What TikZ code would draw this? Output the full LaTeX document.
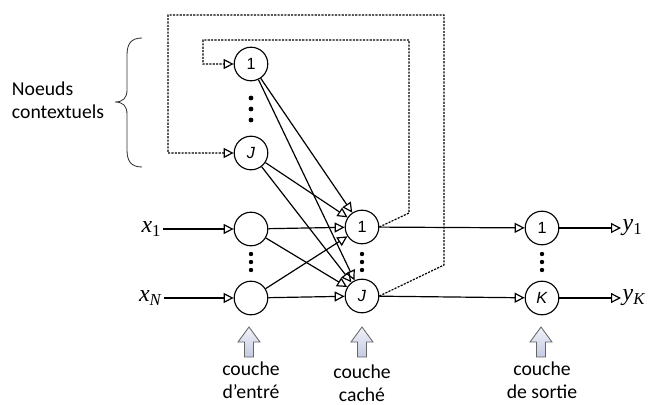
\documentclass[tikz,border=0pt]{standalone}
\usepackage{fontspec}
\setmainfont{Carlito}
\newfontfamily\arial{Liberation Sans}
\newfontfamily\tnr{Liberation Serif}
\usetikzlibrary{arrows.meta}

\definecolor{arrowtop}{RGB}{240,242,250}
\definecolor{arrowbot}{RGB}{196,202,224}

\tikzset{
    neuron/.style = {draw, circle, line width = 0.8pt, minimum size = 0.84cm, inner sep = 0pt,
        font = \arial\fontsize{11.5}{13}\selectfont},
    link/.style = {line width = 0.85pt, -{Triangle[open, length = 2.5mm, width = 2.5mm]}},
    fb/.style = {link, dash pattern = on 1.5pt off 0.9pt},
    var/.style = {inner sep = 1pt, font = \tnr\fontsize{17}{20}\selectfont},
    layer/.style = {align = center, font = \fontsize{14}{16}\selectfont},
    uparrow/.style = {draw = black!60, line width = 0.6pt, top color = arrowtop,
        bottom color = arrowbot},
}

\begin{document}
\begin{tikzpicture}[x = 0.025cm, y = -0.025cm]
        \useasboundingbox (0,0) rectangle (662,405);

        %Context nodes
        \node [neuron] (C1)at(251,64){1};
        \node [neuron] (CJ)at(251,153){\textit{J}};
        %Input layer
        \node [neuron] (I1)at(251,229){};
        \node [neuron] (IN)at(251,298){};
        %Hidden layer
        \node [neuron] (H1)at(362,227){1};
        \node [neuron] (HJ)at(362,296){\textit{J}};
        %Output layer
        \node [neuron] (O1)at(542,228){1};
        \node [neuron] (OK)at(542,298){\textit{K}};

        %Vertical dots
        \foreach \y in {98,109,120}
            \fill (251,\y) circle [radius = 0.06cm];
        \foreach \x in {251,362,542}
            \foreach \y in {254,262,270}
                \fill (\x,\y) circle [radius = 0.055cm];

        %Inputs and outputs
        \node [var, anchor = east] (x1)at(163,229){\textit{x}\textsubscript{1}};
        \node [var, anchor = east] (xN)at(164,298){\textit{x}\textsubscript{\textit{N}}};
        \node [var, anchor = west] (y1)at(621,228){\textit{y}\textsubscript{1}};
        \node [var, anchor = west] (yK)at(621,298){\textit{y}\textsubscript{\textit{K}}};

        \draw [link](x1)--(I1);
        \draw [link](xN)--(IN);

        %Context and input nodes to hidden layer
        \foreach \src in {C1,CJ,I1,IN}
            \foreach \dst in {H1,HJ}
                \draw [link](\src)--(\dst);

        \draw [link](H1)--(O1);
        \draw [link](HJ)--(OK);
        \draw [link](O1)--(y1);
        \draw [link](OK)--(yK);

        %Feedback to context nodes
        \draw [fb](H1.east)--(409,213)|-(203,40)|-(C1);
        \draw [fb](HJ.east)--(444,265)|-(168,15)|-(CJ);

        %Brace
        \draw [line width = 0.6pt, black!80](142,38) .. controls (131,38) and (127,44) .. (127,55)
            -- (127,90) .. controls (127,98) and (123,102) .. (115,102)
            .. controls (123,102) and (127,106) .. (127,114)
            -- (127,150) .. controls (127,161) and (131,167) .. (142,167);
        \node [layer, align = left, anchor = west] (ctx)at(7,100){Noeuds\\contextuels};

        %Layer labels
        \foreach \x in {249,362,541}
            \path [uparrow](\x,327)--(\x+11,342)--(\x+4.5,342)--(\x+4.5,357)
                --(\x-4.5,357)--(\x-4.5,342)--(\x-11,342)--cycle;
        \node [layer] (Lin)at(251,380){couche\\d'entré};
        \node [layer] (Lhid)at(362,383){couche\\caché};
        \node [layer] (Lout)at(542,380){couche\\de sortie};

    \end{tikzpicture}
\end{document}
